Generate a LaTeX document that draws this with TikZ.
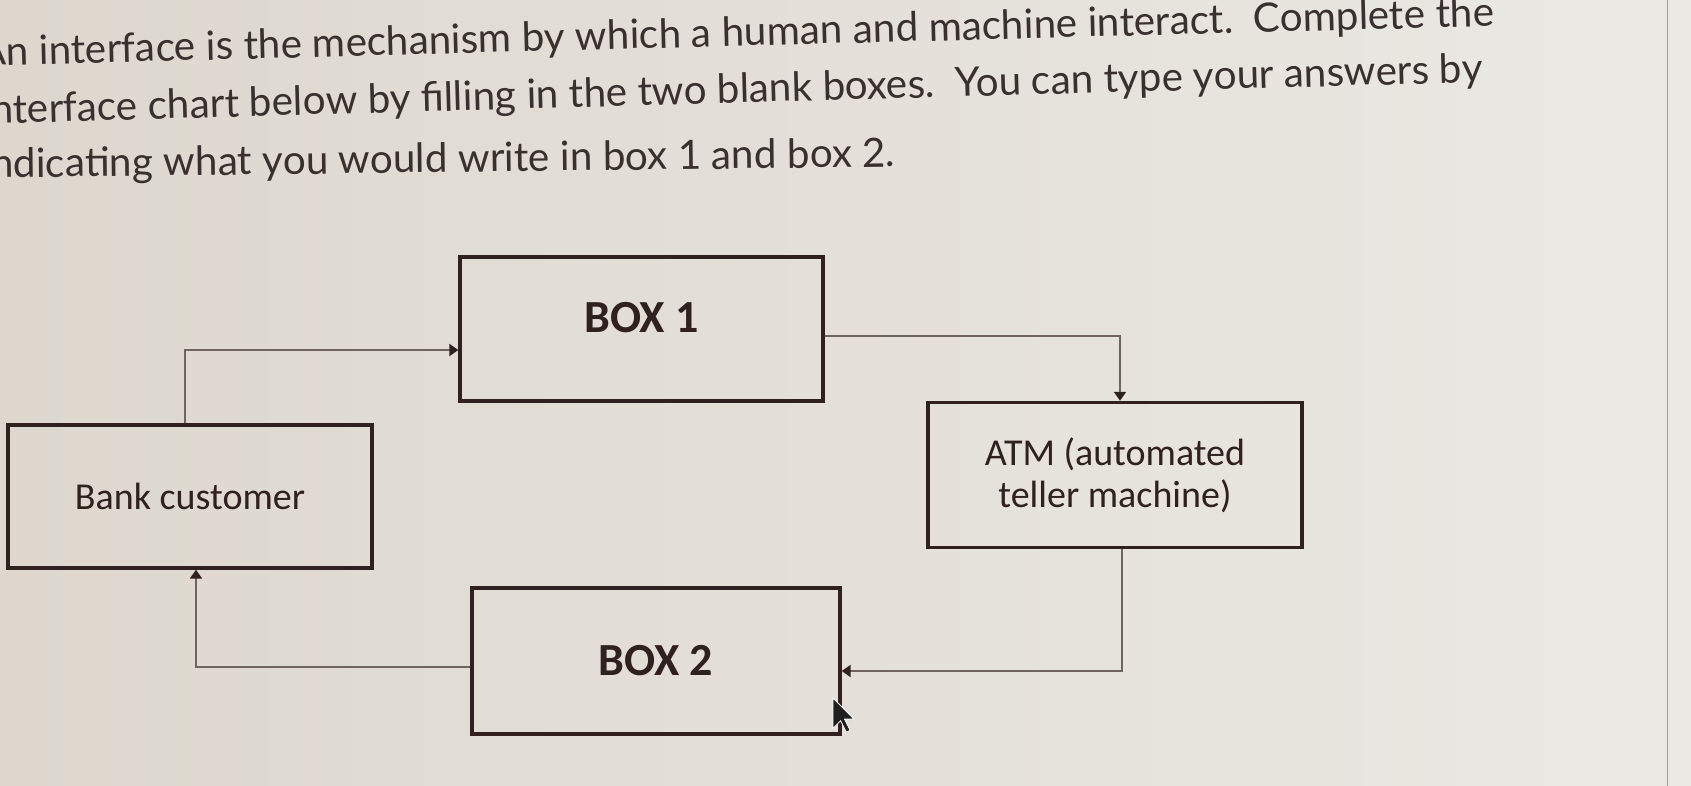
\documentclass[tikz,border=0pt]{standalone}
\usepackage{fontspec}
\setmainfont{Carlito}
\newfontfamily\latofont{Lato}
\usetikzlibrary{positioning,arrows.meta,calc}
\definecolor{paperleft}{RGB}{221,215,206}
\definecolor{paperright}{RGB}{235,233,228}
\definecolor{ink}{RGB}{58,48,48}
\definecolor{frame}{RGB}{48,32,32}
\definecolor{wire}{RGB}{112,100,96}
\definecolor{screenedge}{RGB}{160,156,152}

\begin{document}
\begin{tikzpicture}[
  x=0.5pt, y=-0.5pt,
  prompt/.style={font=\latofont\fontsize{20.2}{24}\selectfont, color=ink, anchor=base west, inner sep=0pt},
  box/.style={draw=frame, line width=1.7pt, align=center, inner sep=0pt, text=frame,
              font=\fontsize{19}{21}\selectfont},
  blank/.style={box, font=\bfseries\fontsize{23}{26}\selectfont},
  conn/.style={draw=wire, line width=1pt, -{Triangle[length=4.5pt,width=6pt,color=frame]}}
]
\useasboundingbox (0,0) rectangle (1691,786);
\clip (0,0) rectangle (1691,786);
\fill[left color=paperleft, right color=paperright] (0,0) rectangle (1691,786);
\draw[screenedge, line width=0.5pt] (1667,0) -- (1667,786);

% question text
\node[prompt, rotate=1.5] (line1) at (-21,66) {An interface is the mechanism by which a human and machine interact.\hspace{0.5em}Complete the};
\node[prompt, rotate=1.6] (line2) at (-19,124) {interface chart below by filling in the two blank boxes.\hspace{0.5em}You can type your answers by};
\node[prompt, rotate=0.7] (line3) at (-19,178) {indicating what you would write in box 1 and box 2.};

% chart
\node[blank, minimum width=181.5pt, minimum height=72pt, text depth=12pt] (bx1) at (641.5,329) {BOX 1};
\node[box, minimum width=182pt, minimum height=71.5pt] (cust) at (190,496.5) {Bank customer};
\node[box, minimum width=187pt, minimum height=72.5pt] (atm) at (1115,475) {ATM (automated\\teller machine)};
\node[blank, minimum width=184pt, minimum height=73pt] (bx2) at (656,661) {BOX 2};

\draw[conn] ($(cust.north)+(-5,0)$) |- ($(bx1.west)+(0,21)$);
\draw[conn] ($(bx1.east)+(0,7)$) -| ($(atm.north)+(5,0)$);
\draw[conn] ($(atm.south)+(7,0)$) |- ($(bx2.east)+(0,10)$);
\draw[conn] ($(bx2.west)+(0,6)$) -| ($(cust.south)+(6,0)$);

% mouse pointer
\filldraw[fill=black!88, draw=white, line width=0.4pt, shift={(833,698)}, scale=1.9]
  (0,0) -- (0,16) -- (4,12) -- (7,18) -- (9,17) -- (6,11) -- (11,11) -- cycle;
\end{tikzpicture}
\end{document}
